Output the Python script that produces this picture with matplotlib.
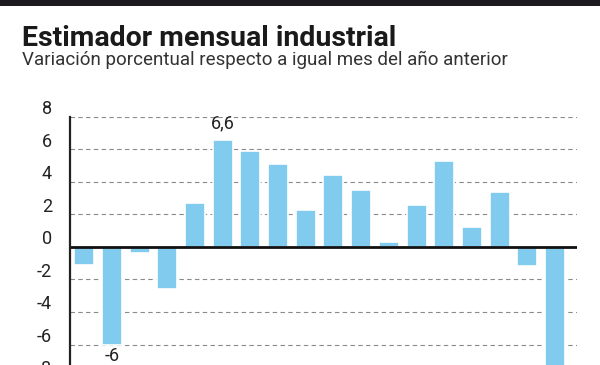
import matplotlib
matplotlib.use('Agg')
import matplotlib.pyplot as plt
import matplotlib.transforms as mtransforms
from matplotlib.patches import Rectangle

# variacion % interanual, de izquierda a derecha
values = [-1.1, -6.0, -0.4, -2.6, 2.7, 6.6, 5.9, 5.1, 2.3, 4.4, 3.5, 0.3, 2.6, 5.3, 1.2, 3.4, -1.2, -9.0]
yticks = [8, 6, 4, 2, 0, -2, -4, -6, -8]
ytick_labels = ['8', '6', '4', '2', '0', '-2', '-4', '-6', '-8']
bar_labels = {5: '6,6', 1: '-6'}

title = 'Estimador mensual industrial'
subtitle = 'Variación porcentual respecto a igual mes del año anterior'

bar_color = '#80CBEE'
font = ['Roboto', 'DejaVu Sans']

fig = plt.figure(figsize=(6, 3.65), dpi=100)
fig.patch.set_facecolor('white')

# barra negra superior
fig.patches.append(Rectangle((0, 1 - 6/365), 1, 6/365, transform=fig.transFigure,
                             facecolor='#1c1a1f', edgecolor='none', zorder=5))

fig.text(22/600, 1 - 46.5/365, title, fontsize=20.5, fontweight='bold', family=font,
         color='#1a1a1a', va='baseline', ha='left')
fig.text(22/600, 1 - 65/365, subtitle, fontsize=13.5, family=font,
         color='#333333', va='baseline', ha='left')

ax = fig.add_axes([70/600, -0.1225, 0.8445, 0.8027])
x = list(range(len(values)))
ax.bar(x, values, width=0.72, color=bar_color, edgecolor='white', linewidth=1.2, zorder=3)

ax.set_xlim(-0.51, len(values) - 1 + 0.78)
ax.set_ylim(-10, 8)
ax.set_yticks(yticks)
ax.set_yticklabels(ytick_labels, family=font, fontsize=13, color='#222222')
ax.tick_params(axis='y', length=0, pad=13)
ax.set_xticks([])

ax.yaxis.grid(True, color='#8a8a8a', linestyle=(0, (4, 3)), linewidth=0.8, zorder=1)
ax.set_axisbelow(True)
ax.axhline(0, color='#111111', linewidth=2, zorder=4)

for s in ['top', 'right', 'bottom']:
    ax.spines[s].set_visible(False)
ax.spines['left'].set_color('#222222')
ax.spines['left'].set_linewidth(1.6)
ax.spines['left'].set_zorder(4)

offset = mtransforms.ScaledTranslation(0, 7/72, fig.dpi_scale_trans)
for lab in ax.get_yticklabels():
    lab.set_transform(lab.get_transform() + offset)

for i, txt in bar_labels.items():
    v = values[i]
    if v >= 0:
        ax.annotate(txt, (i, v), xytext=(0, 5), textcoords='offset points',
                    ha='center', va='bottom', fontsize=13, family=font, color='#222222')
    else:
        ax.annotate(txt, (i, v), xytext=(0, -2), textcoords='offset points',
                    ha='center', va='top', fontsize=13, family=font, color='#222222')

fig.savefig('out.png', dpi=100)
